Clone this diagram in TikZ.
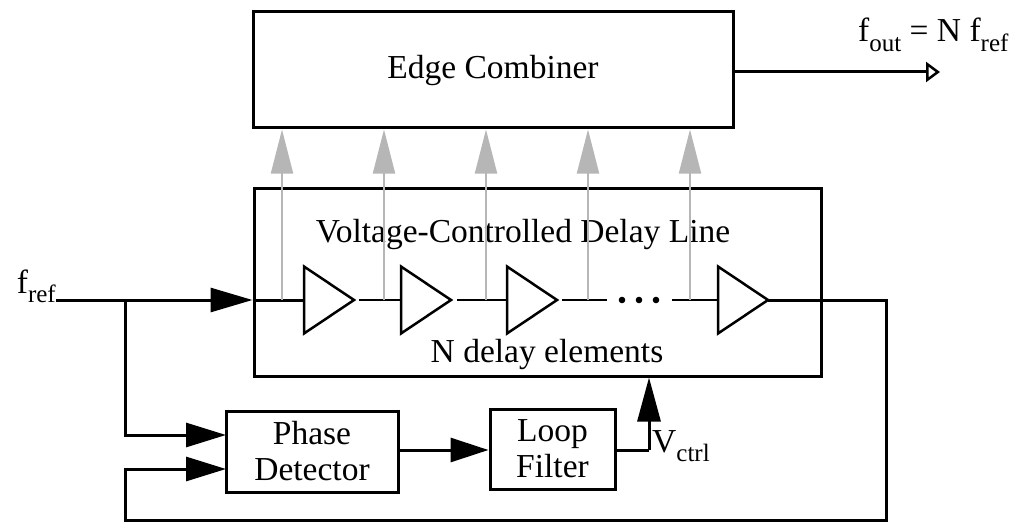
\documentclass[tikz,border=0pt]{standalone}
\usepackage{fontspec}
\setmainfont{Liberation Serif}
\usetikzlibrary{arrows.meta}
\newcommand{\sbs}[1]{\raisebox{-0.27em}{\fontsize{25}{25}\selectfont #1}}
\tikzset{
  box/.style={draw, line width=3pt, inner sep=0pt, font=\fontsize{33.5}{36}\selectfont, align=center},
  lbl/.style={inner sep=0pt, font=\fontsize{33.5}{36}\selectfont},
  sig/.style={line width=3pt, line join=miter},
  thin/.style={line width=2pt},
  buf/.style={line width=2.5pt, line join=miter},
  tap/.style={line width=2pt, draw=tapgray, -{Triangle[length=44pt,width=22pt]}},
  farrow/.style={sig, -{Triangle[length=40pt,width=24pt]}},
}
\definecolor{tapgray}{RGB}{182,182,182}
\begin{document}
\begin{tikzpicture}[x=1pt,y=-1pt]
\useasboundingbox (0,0) rectangle (1020,524);
% boxes
\node[box, minimum width=480pt, minimum height=116pt] (ec) at (493,70) {Edge Combiner};
\node[draw, line width=3pt, minimum width=567pt, minimum height=188pt, inner sep=0pt] (vcdl) at (537.5,282) {};
\node[box, minimum width=172pt, minimum height=81pt] (pd) at (312,451.5) {Phase\\Detector};
\node[box, minimum width=125pt, minimum height=80pt] (lf) at (552.5,449) {Loop\\Filter};
% texts
\node[lbl, anchor=base] (t1) at (523,242) {Voltage-Controlled Delay Line};
\node[lbl, anchor=base] (t2) at (547,362) {N delay elements};
\node[lbl, anchor=base east] (fref) at (56,293) {f\sbs{ref}};
\node[lbl, anchor=base west] (fout) at (858,42) {f\sbs{out} = N f\sbs{ref}};
\node[lbl, anchor=base west] (vctrl) at (652,452) {V\sbs{ctrl}};
% delay elements
\foreach \i/\x in {1/304,2/401,3/507,4/718} {
  \draw[buf] (\x,266.5) -- (\x,333.5) -- (\x+50,300) -- cycle;
  \coordinate (in\i) at (\x,300);
  \coordinate (out\i) at (\x+50,300);
}
\coordinate (tap1) at (282,300);
\coordinate (tap2) at (384,300);
\coordinate (tap3) at (486,300);
\coordinate (tap4) at (588,300);
\coordinate (tap5) at (690,300);
\coordinate (d1) at (622,300);
\coordinate (d2) at (639,300);
\coordinate (d3) at (656,300);
% chain
\draw[sig] (vcdl.west |- in1) -- (in1);
\draw[thin] ([xshift=5pt]out1) -- (in2);
\draw[thin] ([xshift=6pt]out2) -- (in3);
\draw[thin] ([xshift=5pt]out3) -- (607,300);
\draw[thin] (672,300) -- (in4);
\foreach \d in {d1,d2,d3} \fill (\d) circle (3.3pt);
% taps
\foreach \t in {tap1,tap2,tap3,tap4,tap5}
  \draw[tap] (\t) -- (\t |- ec.south);
% input
\coordinate (j1) at (125,300);
\coordinate (pdin1) at (226,435);
\coordinate (pdin2) at (226,469);
\draw[farrow, -{Triangle[length=42pt,width=24pt]}] (fref.east |- j1) -- (vcdl.west |- j1);
\draw[farrow] (j1) |- (pdin1);
% feedback
\coordinate (fb) at (886,520);
\coordinate (fb2) at (125,520);
\draw[farrow] (out4) -| (fb) -- (fb2) |- (pdin2);
\draw[farrow, -{Triangle[length=38pt,width=24pt]}] (pd.east |- 0,450) -- (lf.west |- 0,450);
% vctrl
\coordinate (vc) at (649,450);
\draw[sig] (lf.east |- vc) -- (vc);
\draw[sig, -{Triangle[length=44pt,width=23pt]}] (vc) -- (vc |- vcdl.south);
% output
\draw[sig, -{Triangle[open, length=14pt, width=20pt, line width=2.5pt]}] (ec.east |- 0,72) -- (940,72);
\end{tikzpicture}
\end{document}
